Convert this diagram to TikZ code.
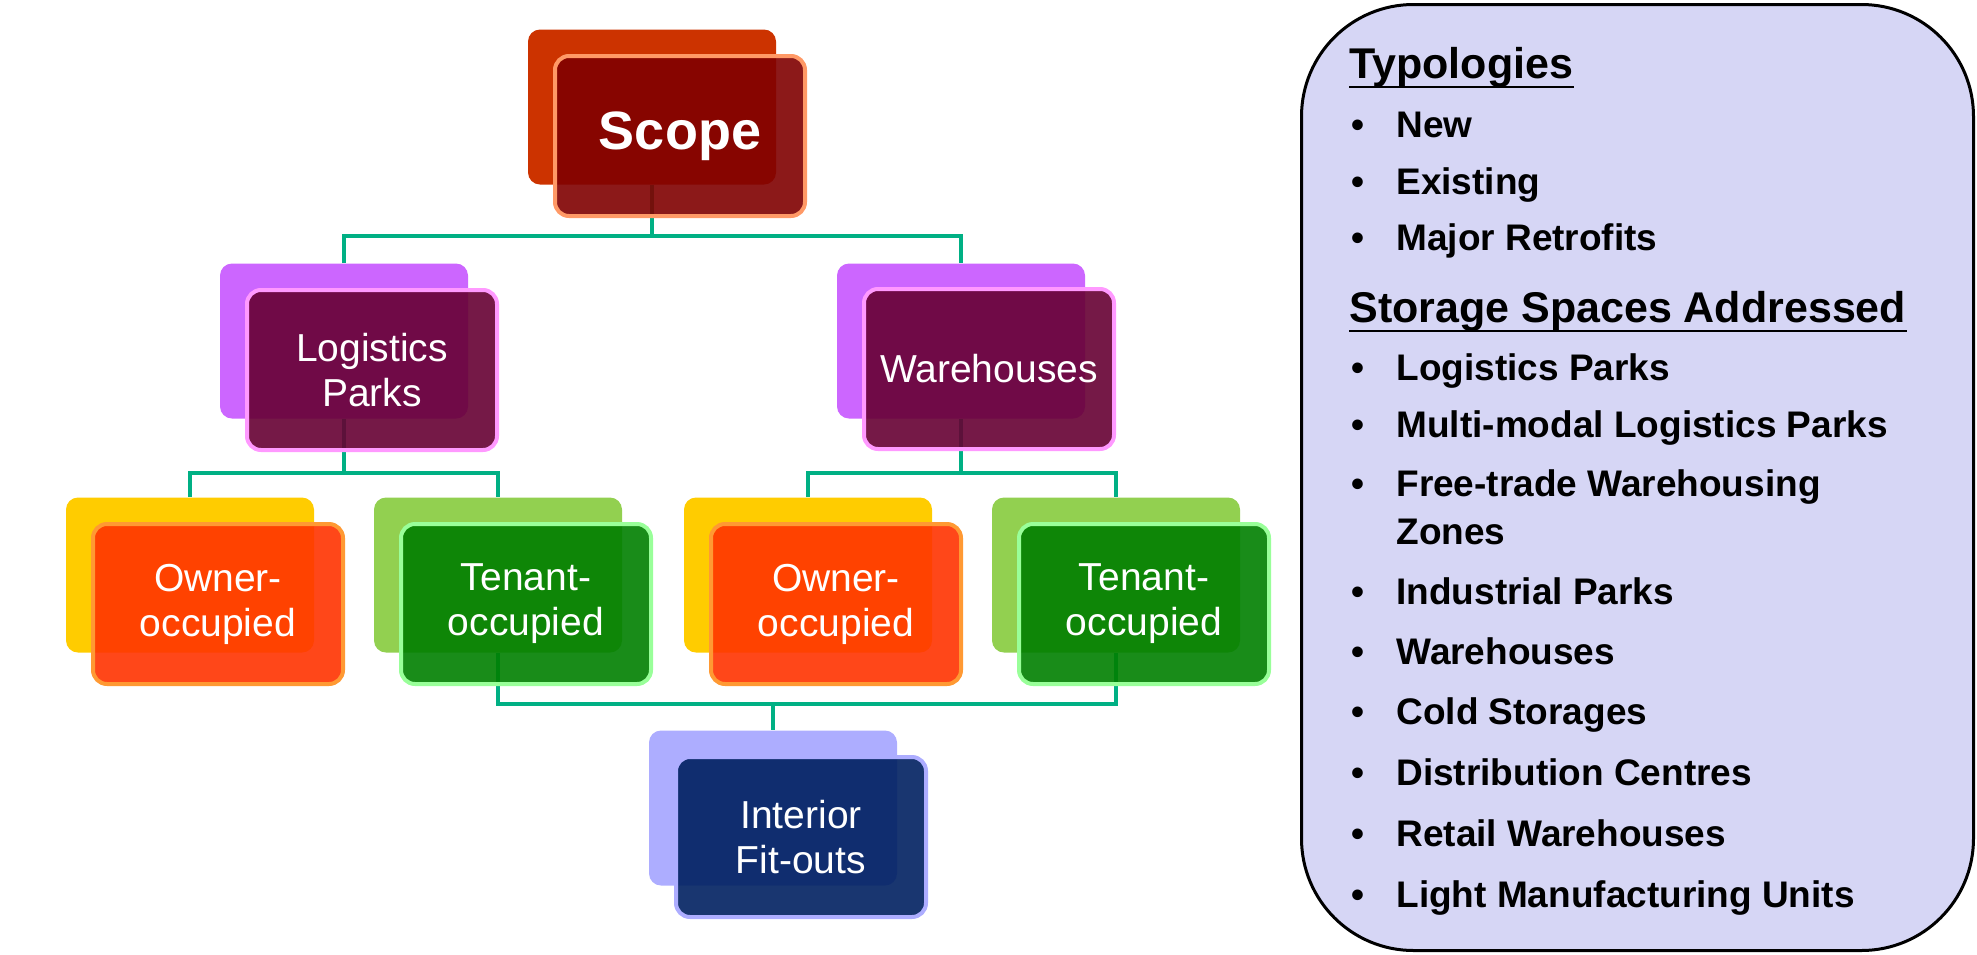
\documentclass[tikz,border=0pt]{standalone}
\usepackage{fontspec}
\setmainfont{Liberation Sans}
\usepackage{tikz}

\definecolor{scopeback}{HTML}{CC3300}
\definecolor{scopefront}{HTML}{800000}
\definecolor{scopeedge}{HTML}{FF9966}
\definecolor{parkback}{HTML}{CC66FF}
\definecolor{parkfront}{HTML}{660033}
\definecolor{parkedge}{HTML}{FF99FF}
\definecolor{ownback}{HTML}{FFCC00}
\definecolor{ownfront}{HTML}{FF3300}
\definecolor{ownedge}{HTML}{FF9933}
\definecolor{tenback}{HTML}{92D050}
\definecolor{tenfront}{HTML}{007F00}
\definecolor{tenedge}{HTML}{99FF99}
\definecolor{fitback}{HTML}{ADADFF}
\definecolor{fitfront}{HTML}{002060}
\definecolor{fitedge}{HTML}{ADADFF}
\definecolor{linkgreen}{HTML}{00B084}
\definecolor{panelbg}{HTML}{D6D6F5}

\newcommand{\itm}{\makebox[22.5pt][l]{\textbullet}}

\begin{document}
\begin{tikzpicture}[x=0.5pt,y=0.5pt,yscale=-1,
  back/.style={rounded corners=6pt,inner sep=0pt,minimum width=124pt,minimum height=77.5pt},
  front/.style={draw,line width=2pt,rounded corners=7pt,inner sep=0pt,minimum width=125pt,minimum height=80pt,
    fill opacity=0.9,text opacity=1,text=white,align=center,font=\fontsize{19.5}{22.5}\selectfont},
  link/.style={draw=linkgreen,line width=1.6pt},
  panel/.style={draw=black,line width=1.5pt,fill=panelbg,rounded corners=56pt,minimum width=336pt,minimum height=473pt},
  head/.style={anchor=base west,inner sep=0pt,font=\bfseries\fontsize{21.5}{26}\selectfont},
  item/.style={anchor=base west,inner sep=0pt,align=left,font=\bfseries\fontsize{18.5}{24}\selectfont},
  uline/.style={line width=1.4pt}]
\useasboundingbox (0,0) rectangle (1977,954);

%Shape: back boxes
\node[back,fill=scopeback] (scope) at (652,107) {};
\node[back,fill=parkback] (logis) at (344,341) {};
\node[back,fill=parkback] (wareh) at (961,341) {};
\node[back,fill=ownback] (own1) at (190,575) {};
\node[back,fill=tenback] (ten1) at (498,575) {};
\node[back,fill=ownback] (own2) at (808,575) {};
\node[back,fill=tenback] (ten2) at (1116,575) {};
\node[back,fill=fitback] (inter) at (773,808) {};

%Straight Lines: joints
\coordinate (h1) at (652,236);
\coordinate (h2) at (344,473);
\coordinate (h3) at (961,473);
\coordinate (h4) at (773,704);

\draw[link] (scope.south) -- (h1);
\draw[link] (logis.north) |- (h1) -| (wareh.north);
\draw[link] (logis.south) -- (h2);
\draw[link] (own1.north) |- (h2) -| (ten1.north);
\draw[link] (wareh.south) -- (h3);
\draw[link] (own2.north) |- (h3) -| (ten2.north);
\draw[link] (ten1.south) |- (h4) -| (ten2.south);
\draw[link] (h4) -- (inter.north);

%Shape: front boxes
\node[front,fill=scopefront,draw=scopeedge,font=\bfseries\fontsize{27}{32}\selectfont] (scopef) at ([shift={(28,29)}]scope) {Scope};
\node[front,fill=parkfront,draw=parkedge] (logisf) at ([shift={(28,29)}]logis) {Logistics\\Parks};
\node[front,fill=parkfront,draw=parkedge] (warehf) at ([shift={(28,28)}]wareh) {Warehouses};
\node[front,fill=ownfront,draw=ownedge] (own1f) at ([shift={(28,29)}]own1) {Owner-\\occupied};
\node[front,fill=tenfront,draw=tenedge] (ten1f) at ([shift={(28,29)}]ten1) {Tenant-\\occupied};
\node[front,fill=ownfront,draw=ownedge] (own2f) at ([shift={(28,29)}]own2) {Owner-\\occupied};
\node[front,fill=tenfront,draw=tenedge] (ten2f) at ([shift={(28,29)}]ten2) {Tenant-\\occupied};
\node[front,fill=fitfront,draw=fitedge] (interf) at ([shift={(28,29)}]inter) {Interior\\Fit-outs};

%Shape: side panel
\node[panel] (info) at (1637.5,477.5) {};

% Text Node
\node[head] (typ) at (1349,78) {Typologies};
\draw[uline] ([shift={(0,9)}]typ.base west) -- ([shift={(0,9)}]typ.base east);
% Text Node
\node[item] (new) at (1351,137) {\itm New};
\node[item] (exist) at (1351,194) {\itm Existing};
\node[item] (retro) at (1351,250) {\itm Major Retrofits};
% Text Node
\node[head] (stor) at (1349,322) {Storage Spaces Addressed};
\draw[uline] ([shift={(0,9)}]stor.base west) -- ([shift={(0,9)}]stor.base east);
% Text Node
\node[item] (lp) at (1351,380) {\itm Logistics Parks};
\node[item] (mm) at (1351,437) {\itm Multi-modal Logistics Parks};
\node[item] (ftwz) at (1351,544) {\itm Free-trade Warehousing\\\hspace*{22.5pt}Zones};
\node[item] (ip) at (1351,604) {\itm Industrial Parks};
\node[item] (wh) at (1351,664) {\itm Warehouses};
\node[item] (cs) at (1351,724) {\itm Cold Storages};
\node[item] (dc) at (1351,785) {\itm Distribution Centres};
\node[item] (rw) at (1351,846) {\itm Retail Warehouses};
\node[item] (lmu) at (1351,907) {\itm Light Manufacturing Units};

\end{tikzpicture}
\end{document}
